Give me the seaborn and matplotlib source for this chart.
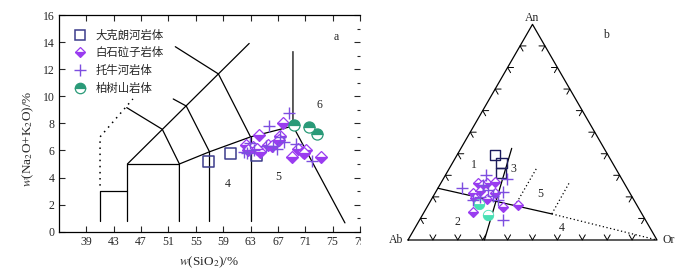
import numpy as np
import matplotlib
matplotlib.use("Agg")
import matplotlib.pyplot as plt
from matplotlib.lines import Line2D
from matplotlib.transforms import Bbox, TransformedBbox
import seaborn as sns

# ---------------- data: panel a (TAS) ----------------
dkl_sio2 = [56.8, 60.1, 63.9]
dkl_alk = [5.15, 5.77, 5.59]
bslz_sio2 = [67.8, 64.2, 67.3, 67.1, 62.3, 63.3, 62.7, 64.4, 63.9, 65.5, 66.2, 69.0, 70.0, 70.6, 71.1, 70.8, 73.3]
bslz_alk = [8.0, 7.15, 7.1, 6.75, 6.4, 6.25, 6.0, 5.9, 6.1, 6.4, 6.35, 5.55, 6.1, 5.9, 6.0, 5.8, 5.48]
tnh_sio2 = [68.6, 65.7, 62.9, 62.1, 62.5, 65.2, 66.3, 66.8, 67.9, 69.6, 72.0, 63.5, 67.3]
tnh_alk = [8.8, 7.8, 6.55, 5.9, 5.8, 6.3, 6.3, 6.1, 6.6, 6.5, 5.2, 6.0, 7.0]
bss_sio2 = [69.3, 71.6, 72.7]
bss_alk = [7.88, 7.76, 7.19]

labels = ["大克朗河岩体", "白石砬子岩体", "托牛河岩体", "柏树山岩体"]
x_ticks = [39, 43, 47, 51, 55, 59, 63, 67, 71, 75, 79]
y_ticks = [0, 2, 4, 6, 8, 10, 12, 14, 16]

# TAS field boundaries (SiO2, alkali)
tas_solid = [
    [(41, 0.8), (41, 3), (45, 3)],
    [(45, 0.8), (45, 5), (52.6, 5)],
    [(52.6, 0.75), (52.6, 5), (57, 5.9), (63, 7), (69.2, 7.8)],
    [(57, 0.8), (57, 5.9)],
    [(63, 0.8), (63, 7)],
    [(69.2, 13.3), (69.2, 7.8), (76.8, 0.65)],
    [(45, 5), (62.8, 13.9)],
    [(44.9, 9.16), (50.1, 7.56), (52.6, 5)],
    [(51.7, 9.8), (53.6, 9.28), (57, 5.9)],
    [(52.0, 13.66), (58.3, 11.65), (63, 7)],
]
tas_dotted = [(41, 3.4), (41, 7.0), (45.8, 9.8)]
field_a = [("4", 59.7, 3.5), ("5", 67.0, 4.06), ("6", 73.06, 9.36)]

# ---------------- data: panel b (An-Ab-Or), percent ----------------
sq_an = [39.4, 35.6, 31.2]
sq_or = [15.2, 19.8, 21.7]
di_an = [26.6, 26.6, 27.0, 21.9, 22.9, 21.9, 18.9, 15.4, 16.2, 12.8, 19.3, 25.5]
di_or = [15.0, 18.3, 21.4, 15.3, 17.5, 24.0, 22.2, 30.6, 35.9, 19.6, 17.2, 16.9]
pl_an = [30.1, 28.1, 24.0, 22.1, 18.6, 20.1, 20.4, 9.3, 25.5, 18.6, 23.2]
pl_or = [16.3, 25.6, 9.6, 27.2, 17.0, 18.9, 24.1, 33.6, 17.5, 27.0, 20.7]
ci_an = [16.7, 11.6]
ci_or = [20.3, 26.4]

tern_solid = [[(24.0, 0.0), (12.1, 51.7)], [(0.0, 30.7), (42.5, 20.4)]]
tern_dotted = [[(12.1, 51.7), (0.0, 100.0)], [(15.9, 35.0), (33.5, 35.0)], [(12.1, 51.7), (26.3, 51.5)]]
field_b = [("1", 34.8, 9.2), ("2", 8.5, 15.7), ("3", 32.8, 25.9), ("4", 5.4, 59.0), ("5", 21.3, 42.5)]

# ---------------- style ----------------
sns.set_style("ticks")
plt.rcParams["font.family"] = ["Liberation Serif", "Noto Sans CJK SC"]
plt.rcParams["mathtext.fontset"] = "stix"
plt.rcParams["font.size"] = 8.5

C_SQ = "#3c3c8c"
C_DI = "#9a3cf0"
C_PL = "#7d4ee0"
C_CI = "#2a9a78"
C_MINT = "#48e0b4"
FS = 8.5

fig = plt.figure(figsize=(7, 2.8), dpi=100)
W, H = 700, 280
ax = fig.add_axes([59 / W, (H - 231.7) / H, 301 / W, 216.7 / H])

for seg in tas_solid:
    xs, ys = zip(*seg)
    ax.plot(xs, ys, color="black", lw=0.9)
xs, ys = zip(*tas_dotted)
ax.plot(xs, ys, color="black", lw=1.1, ls=(0, (1, 3)))

sns.scatterplot(x=dkl_sio2, y=dkl_alk, marker="s", s=62, facecolor="none",
                edgecolor=C_SQ, linewidth=1.1, ax=ax, zorder=5)
ax.plot(bslz_sio2, bslz_alk, ls="none", marker="D", ms=6, mfc=C_DI, mfcalt="white",
        fillstyle="bottom", mec=C_DI, mew=0.9, zorder=6)
sns.scatterplot(x=tnh_sio2, y=tnh_alk, marker="+", s=80, color=C_PL, linewidth=1.0, ax=ax, zorder=7)
ax.plot(bss_sio2, bss_alk, ls="none", marker="o", ms=8, mfc=C_CI, mfcalt="white",
        fillstyle="top", mec=C_CI, mew=0.9, zorder=6)

for t, x, y in field_a:
    ax.text(x, y, t, ha="center", va="center", fontsize=FS)
ax.text(75.6, 14.4, "a", ha="center", va="center", fontsize=FS)

ax.set_xlim(35, 79)
ax.set_ylim(0, 16)
ax.set_xticks(x_ticks)
ax.set_yticks(y_ticks)
ax.yaxis.set_minor_locator(matplotlib.ticker.MultipleLocator(1))
ax.tick_params(which="both", direction="in", top=True, right=True, labelsize=FS, pad=3, width=0.8)
ax.tick_params(which="major", length=4)
ax.tick_params(which="minor", length=2.5, left=False, right=True, bottom=False, top=False)
ax.spines["right"].set_visible(False)
for s in ["left", "bottom", "top"]:
    ax.spines[s].set_linewidth(0.9)
    ax.spines[s].set_color("black")
clip = TransformedBbox(Bbox([[0, 0], [361 / W, 1]]), fig.transFigure)
for lab in ax.get_xticklabels():
    lab.set_clip_on(True)
    lab.set_clip_box(clip)

ax.set_xlabel(r"$w$(SiO$_2$)/%", fontsize=9.5, labelpad=5)
ax.set_ylabel(r"$w$(Na$_2$O+K$_2$O)/%", fontsize=9.5)
ax.yaxis.set_label_coords(-0.075, 0.43)

handles = [
    Line2D([], [], ls="none", marker="s", ms=7.5, mfc="none", mec=C_SQ, mew=1.1),
    Line2D([], [], ls="none", marker="D", ms=5.5, mfc=C_DI, mfcalt="white", fillstyle="bottom", mec=C_DI, mew=0.9),
    Line2D([], [], ls="none", marker="+", ms=8, mec=C_PL, mew=1.0),
    Line2D([], [], ls="none", marker="o", ms=7.5, mfc=C_CI, mfcalt="white", fillstyle="top", mec=C_CI, mew=0.9),
]
leg = ax.legend(handles, labels, loc="upper left", bbox_to_anchor=(0.035, 0.955), frameon=False,
                handlelength=1.0, handletextpad=0.9, labelspacing=0.6, borderaxespad=0,
                prop={"family": ["Noto Sans CJK SC"], "size": 8.2})

# ---------------- panel b: ternary ----------------
S = 249.0
bx = fig.add_axes([380 / W, 0, 320 / W, 1])
bx.set_xlim(-28 / S, 292 / S)
bx.set_ylim(-40 / S, 240 / S)
bx.axis("off")
r3 = np.sqrt(3) / 2


def tern(an, orr):
    an = np.asarray(an, float) / 100.0
    orr = np.asarray(orr, float) / 100.0
    return orr + an / 2, an * r3


bx.plot([0, 1, 0.5, 0], [0, 0, r3, 0], color="black", lw=0.9)
L = 0.024
for k in range(1, 10):
    t = k / 10
    px, py = t, 0
    bx.plot([px - L * 0.5, px, px + L * 0.5], [L * r3, 0, L * r3], color="black", lw=0.7)
    px, py = 0.5 * t, r3 * t
    bx.plot([px + L, px, px + L * 0.5], [py, py, py - L * r3], color="black", lw=0.7)
    px, py = 1 - 0.5 * t, r3 * t
    bx.plot([px - L, px, px - L * 0.5], [py, py, py - L * r3], color="black", lw=0.7)

for seg in tern_solid:
    a, o = zip(*seg)
    X, Y = tern(a, o)
    bx.plot(X, Y, color="black", lw=0.9)
for seg in tern_dotted:
    a, o = zip(*seg)
    X, Y = tern(a, o)
    bx.plot(X, Y, color="black", lw=0.9, ls=(0, (1, 2)))

X, Y = tern(sq_an, sq_or)
sns.scatterplot(x=X, y=Y, marker="s", s=55, facecolor="none", edgecolor="#1c1c5c", linewidth=1.0, ax=bx, zorder=5)
X, Y = tern(di_an, di_or)
bx.plot(X, Y, ls="none", marker="D", ms=5.5, mfc=C_DI, mfcalt="white", fillstyle="bottom", mec=C_DI, mew=0.9, zorder=6)
X, Y = tern(pl_an, pl_or)
sns.scatterplot(x=X, y=Y, marker="+", s=75, color=C_PL, linewidth=1.0, ax=bx, zorder=7)
X, Y = tern(ci_an, ci_or)
bx.plot(X, Y, ls="none", marker="o", ms=7.5, mfc=C_MINT, mfcalt="white", fillstyle="bottom", mec=C_MINT, mew=0.6, zorder=6)

for t, a, o in field_b:
    X, Y = tern([a], [o])
    bx.text(X[0], Y[0], t, ha="center", va="center", fontsize=FS)
bx.text(0.794, 0.823, "b", ha="center", va="center", fontsize=FS)
bx.text(0.5, r3 + 0.024, "An", ha="center", va="center", fontsize=FS)
bx.text(-0.047, 0, "Ab", ha="center", va="center", fontsize=FS)
bx.text(1.047, 0, "Or", ha="center", va="center", fontsize=FS)

fig.savefig("out.png", dpi=100)
